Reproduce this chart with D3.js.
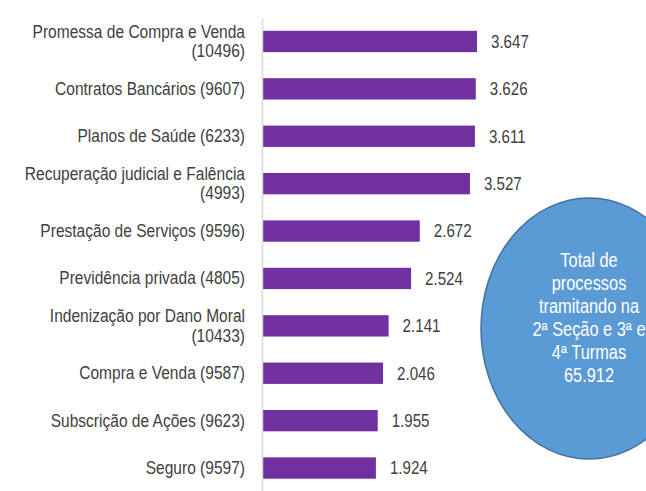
<!DOCTYPE html>
<html>
<head>
<meta charset="utf-8">
<script src="https://cdn.jsdelivr.net/npm/d3@7"></script>
<style>
  body { margin: 0; background: #fff; }
  svg { display: block; }
  text { font-family: "Liberation Sans", Arial, sans-serif; }
</style>
</head>
<body>
<svg></svg>
<script>
// categories with their process counts, and the values shown on the bars
const categories = ["Promessa de Compra e Venda", "Contratos Bancários", "Planos de Saúde",
    "Recuperação judicial e Falência", "Prestação de Serviços", "Previdência privada",
    "Indenização por Dano Moral", "Compra e Venda", "Subscrição de Ações", "Seguro"];
const codes = [10496, 9607, 6233, 4993, 9596, 4805, 10433, 9587, 9623, 9597];
const values = [3647, 3626, 3611, 3527, 2672, 2524, 2141, 2046, 1955, 1924];
const totalLines = ["Total de", "processos", "tramitando na", "2ª Seção e 3ª e", "4ª Turmas", "65.912"];

const width = 646;
const height = 491;
const squeeze = 0.84; // the source text is narrow, like Arial Narrow

const svg = d3.select("svg")
    .attr("width", width)
    .attr("height", height);

const br = d3.formatLocale({ decimal: ",", thousands: ".", grouping: [3], currency: ["R$", ""] });
const fmt = br.format(",d");

const x = d3.scaleLinear()
    .domain([0, 4000])
    .range([263, 497.7]);

const y = d3.scaleBand()
    .domain(categories)
    .range([18, 491.5])
    .paddingInner(0.55)
    .paddingOuter(0.27);

// bars
svg.selectAll("rect.bar")
    .data(values)
    .enter().append("rect")
    .attr("class", "bar")
    .attr("x", x(0))
    .attr("y", (d, i) => y(categories[i]))
    .attr("width", d => x(d) - x(0))
    .attr("height", y.bandwidth())
    .attr("fill", "#7030A0");

// value labels
svg.selectAll("text.val")
    .data(values)
    .enter().append("text")
    .attr("class", "val")
    .attr("transform", (d, i) => `translate(${x(d) + 14},${y(categories[i]) + y.bandwidth() / 2}) scale(${squeeze},1)`)
    .attr("dy", "0.35em")
    .attr("fill", "#404040")
    .style("font-size", "18px")
    .text(d => fmt(d));

// category axis
const axis = svg.append("g")
    .attr("transform", `translate(${x(0) - 1},0)`)
    .call(d3.axisLeft(y).tickSize(0).tickSizeOuter(0));

axis.select(".domain")
    .attr("stroke", "#D9D9D9")
    .attr("stroke-width", 1.5);

axis.selectAll(".tick text")
    .attr("x", 0)
    .attr("transform", `translate(-17,0) scale(${squeeze},1)`)
    .attr("fill", "#404040")
    .style("font-size", "18.5px")
    .each(function (d) {
        const i = categories.indexOf(d);
        const t = d3.select(this);
        t.text(`${d} (${codes[i]})`);
        if (this.getComputedTextLength() * squeeze > 230) {
            t.text(null).attr("dy", null);
            t.append("tspan").attr("x", 0).attr("dy", "-0.2em").text(d);
            t.append("tspan").attr("x", 0).attr("dy", "1.05em").text(`(${codes[i]})`);
        }
    });

// total ellipse
const cx = 589, cy = 328.5;
svg.append("ellipse")
    .attr("cx", cx)
    .attr("cy", cy)
    .attr("rx", 108)
    .attr("ry", 130.5)
    .attr("fill", "#5B9BD5")
    .attr("stroke", "#41719C")
    .attr("stroke-width", 1.5);

svg.append("g")
    .selectAll("text")
    .data(totalLines)
    .enter().append("text")
    .attr("transform", (d, i) => `translate(${cx},${266.5 + i * 23}) scale(${squeeze},1)`)
    .attr("text-anchor", "middle")
    .attr("fill", "#fff")
    .style("font-size", "19.5px")
    .text(d => d);
</script>
</body>
</html>
